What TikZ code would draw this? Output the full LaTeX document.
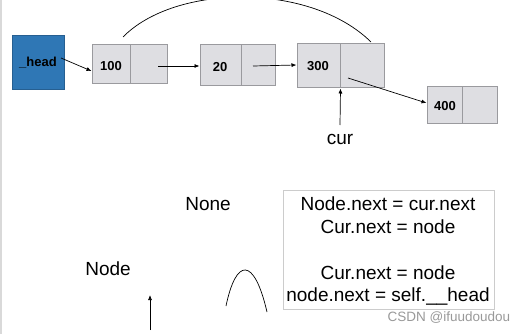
\documentclass[tikz,border=0pt]{standalone}
\usepackage{fontspec}
\setmainfont{Liberation Sans}
\usetikzlibrary{arrows.meta}
\definecolor{headblue}{HTML}{2F77B5}
\definecolor{cellfill}{HTML}{DEDEE2}
\definecolor{cellline}{HTML}{9A9A9E}
\begin{document}
\begin{tikzpicture}[x=1pt,y=-1pt,
  cell/.style={draw=cellline,fill=cellfill,line width=1pt},
  lbl/.style={font=\bfseries\fontsize{13}{15}\selectfont},
  txt/.style={font=\fontsize{19}{22}\selectfont},
  conn/.style={-{Latex[length=5pt,width=4pt]},line width=0.7pt}]
\useasboundingbox (0,0) rectangle (526,334);
\fill[white] (0,0) rectangle (526,334);
\draw[black!15,line width=2pt] (1,0) -- (1,334);
% head
\node[fill=headblue,draw=headblue!80!black,minimum width=52pt,minimum height=54pt,inner sep=0pt] (head) at (38,62) {};
\node[lbl] (headt) at (38,63) {\_head};
% node 100
\node[cell,minimum width=38pt,minimum height=39pt,inner sep=0pt] (n100a) at (111,64.5) {};
\node[cell,minimum width=37pt,minimum height=39pt,inner sep=0pt] (n100b) at (148.5,64.5) {};
\node[lbl] at (111,66) {100};
% node 20
\node[cell,minimum width=41pt,minimum height=41pt,inner sep=0pt] (n20a) at (220.5,65.5) {};
\node[cell,minimum width=34pt,minimum height=41pt,inner sep=0pt] (n20b) at (258,65.5) {};
\node[lbl] at (220,67) {20};
% node 300
\node[cell,minimum width=43pt,minimum height=44pt,inner sep=0pt] (n300a) at (318.5,66) {};
\node[cell,minimum width=44pt,minimum height=44pt,inner sep=0pt] (n300b) at (362,66) {};
\node[lbl] at (318,66) {300};
% node 400
\node[cell,minimum width=35pt,minimum height=36pt,inner sep=0pt] (n400a) at (444.5,105) {};
\node[cell,minimum width=35pt,minimum height=36pt,inner sep=0pt] (n400b) at (479.5,105) {};
\node[lbl] at (445,106) {400};
% connectors
\coordinate (s1) at (61,58);
\draw[conn] (s1) -- (n100a.west |- 0,71);
\coordinate (s2) at (158,66);
\draw[conn] (s2) -- (n20a.west |- 0,66);
\coordinate (s3) at (253,66);
\draw[conn] (s3) -- (n300a.west |- 0,65);
\coordinate (s4) at (348,78);
\draw[conn] (s4) -- (n400a.west |- 0,103);
\coordinate (a1) at (123,37);
\coordinate (a2) at (371,42);
\draw[line width=0.7pt] (a1) .. controls (175,-16) and (310,-18) .. (a2);
% cur
\node[txt] (cur) at (340,139) {cur};
\coordinate (c0) at (340,125);
\draw[conn] (c0) -- (n300a.south east);
% lower part
\node[txt] (none) at (208,204) {None};
\node[txt] (node) at (108,269) {Node};
\coordinate (u0) at (150,330);
\coordinate (u1) at (150,295);
\draw[conn] (u0) -- (u1);
\coordinate (p0) at (226,306);
\coordinate (p1) at (267,312);
\draw[line width=0.7pt] (p0) .. controls (236,258) and (254,256) .. (p1);
% box
\node[draw=black!20,line width=0.8pt,minimum width=211pt,minimum height=119pt,inner sep=0pt] (box) at (388.5,249.5) {};
\node[txt] (l1) at (388,204) {Node.next = cur.next};
\node[txt] (l2) at (388,227) {Cur.next = node};
\node[txt] (l3) at (388,273) {Cur.next = node};
\node[txt] (l4) at (388,296) {node.next = self.\_\_head};
\node[text=black!40,font=\fontsize{13.5}{15}\selectfont] (wm) at (449,318) {CSDN @ifuudoudou};
\end{tikzpicture}
\end{document}
